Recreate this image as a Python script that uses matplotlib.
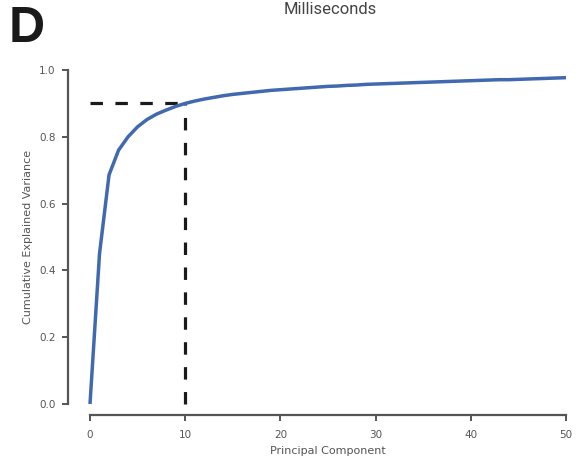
import matplotlib
matplotlib.use("Agg")
import matplotlib.pyplot as plt

# Cumulative explained variance per number of principal components
components = list(range(0, 51))
cum_variance = [
    0.000, 0.450, 0.686, 0.760, 0.800, 0.830, 0.852, 0.868, 0.880, 0.891,
    0.900, 0.907, 0.913, 0.918, 0.923, 0.927, 0.930, 0.933, 0.936, 0.939,
    0.941, 0.943, 0.945, 0.947, 0.949, 0.951, 0.952, 0.954, 0.955, 0.957,
    0.958, 0.959, 0.960, 0.961, 0.962, 0.963, 0.964, 0.965, 0.966, 0.967,
    0.968, 0.969, 0.970, 0.971, 0.971, 0.972, 0.973, 0.974, 0.975, 0.976,
    0.977,
]
threshold = 0.9
n_at_threshold = 10
x_ticks = [0, 10, 20, 30, 40, 50]
y_ticks = [0.0, 0.2, 0.4, 0.6, 0.8, 1.0]

W, H = 581, 465
fig = plt.figure(figsize=(W / 100, H / 100), dpi=100)
ax = fig.add_axes([90 / W, 1 - 404 / H, (566 - 90) / W, (404 - 70) / H])

ax.plot(components, cum_variance, color="#4169b0", lw=2.5, solid_capstyle="butt",
        clip_on=False, zorder=3)
dash = (0, (3.9, 3.9))
ax.plot([0, n_at_threshold], [threshold, threshold], color="#1a1a1a", lw=2.3,
        ls=dash, dash_capstyle="butt", clip_on=False, zorder=2)
ax.plot([n_at_threshold, n_at_threshold], [0, threshold], color="#1a1a1a", lw=2.3,
        ls=dash, dash_capstyle="butt", clip_on=False, zorder=2)

ax.set_xlim(0, 50)
ax.set_ylim(0, 1)
ax.set_xticks(x_ticks)
ax.set_yticks(y_ticks)
ax.set_xticklabels([str(t) for t in x_ticks])
ax.set_yticklabels([f"{t:.1f}" for t in y_ticks])

for side in ("top", "right"):
    ax.spines[side].set_visible(False)
spine_color = "#555555"
ax.spines["left"].set_position(("outward", 22 * 0.72))
ax.spines["bottom"].set_position(("outward", 11 * 0.72))
ax.spines["left"].set_bounds(0, 1)
ax.spines["bottom"].set_bounds(0, 50)
for side in ("left", "bottom"):
    ax.spines[side].set_color(spine_color)
    ax.spines[side].set_linewidth(1.6)
ax.tick_params(axis="both", colors=spine_color, length=4, width=1.4,
               labelsize=7.5, labelcolor="#555555")
ax.tick_params(axis="x", pad=7)
ax.tick_params(axis="y", pad=5)

ax.set_xlabel("Principal Component", fontsize=8, color="#555555", labelpad=4)
ax.set_ylabel("Cumulative Explained Variance", fontsize=8, color="#555555", labelpad=4)
ax.patch.set_alpha(0)

fig.text(330 / W, 1 - 9 / H, "Milliseconds", ha="center", va="center",
         fontsize=12, color="#444444", family="Roboto")
fig.text(9 / W, 1 - 29 / H, "D", ha="left", va="center", fontsize=36,
         fontweight="bold", color="#1a1a1a", family="Liberation Sans")

fig.savefig("out.png", dpi=100)
